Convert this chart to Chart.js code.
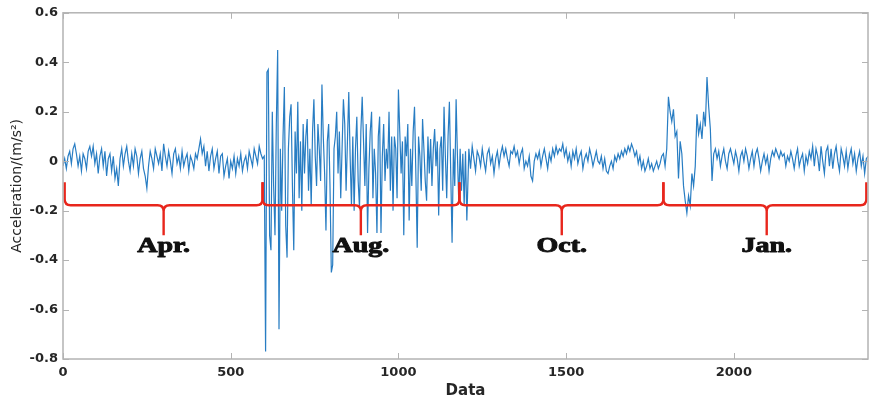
<!DOCTYPE html>
<html><head><meta charset="utf-8">
<script src="https://cdn.jsdelivr.net/npm/chart.js@4.4.0/dist/chart.umd.min.js"></script>
<style>html,body{margin:0;padding:0;background:#fff}#wrap{width:869px;height:404px}</style>
</head><body><div id="wrap"><canvas id="c" width="869" height="404"></canvas></div>
<script>
// ---- tick labels ----
const xTicks = [0, 500, 1000, 1500, 2000];
const xTickLabels = ['0', '500', '1000', '1500', '2000'];
const yTicks = [-0.8, -0.6, -0.4, -0.2, 0, 0.2, 0.4, 0.6];
const yTickLabels = ['-0.8', '-0.6', '-0.4', '-0.2', '0', '0.2', '0.4', '0.6'];

// ---- series, per period: start sample, sample step, values ----
const aprStart = 0, aprStep = 5;
const aprValues = [
 -0.02, 0.01, -0.03, 0.02, 0.04, -0.01, 0.05, 0.07, 0.03, -0.02,
 0.02, -0.04, 0.03, 0.01, -0.03, 0.04, 0.06, 0.02, 0.06, -0.01,
 0.03, -0.05, 0.02, 0.05, -0.02, 0.04, -0.06, 0.01, 0.03, -0.04,
 0.02, -0.07, -0.03, -0.10, 0.01, 0.05, -0.02, 0.03, 0.06, 0.00,
 -0.04, 0.03, -0.02, 0.05, 0.02, -0.05, 0.01, 0.04, -0.03, -0.06,
 -0.11, -0.02, 0.04, 0.01, -0.03, 0.05, 0.02, -0.01, 0.03, -0.04,
 0.07, 0.02, -0.02, 0.04, 0.00, -0.05, 0.03, 0.05, -0.01, 0.02,
 -0.03, 0.04, -0.02, 0.01, 0.03, -0.04, 0.02, 0.00, -0.03, 0.03,
 0.01, 0.05, 0.09, 0.03, 0.06, -0.02, 0.04, -0.04, 0.02, 0.05,
 -0.03, 0.01, 0.04, -0.05, 0.02, 0.03, -0.06, -0.02, 0.01, -0.07,
 0.00, -0.03, 0.02, -0.05, 0.01, -0.02, 0.03, -0.04, 0.00, 0.02,
 -0.03, 0.04, 0.01, -0.02, 0.05, 0.02, -0.01, 0.06, 0.03, 0.01
];
const augStart = 600, augStep = 4;
const augValues = [
 0.02, -0.77, 0.36, 0.37, -0.30, -0.36, 0.20, -0.10, -0.30, 0.15,
 0.45, -0.68, 0.05, -0.20, 0.10, 0.30, -0.26, -0.39, 0.05, 0.18,
 0.23, -0.10, -0.36, 0.12, -0.05, 0.24, -0.15, 0.08, -0.20, 0.15,
 -0.05, 0.10, 0.17, -0.12, 0.05, -0.18, 0.12, 0.25, 0.02, -0.10,
 0.15, 0.05, -0.08, 0.31, 0.10, -0.05, -0.28, 0.08, 0.15, -0.10,
 -0.45, -0.42, 0.05, 0.10, 0.20, -0.05, 0.12, -0.15, 0.05, 0.25,
 0.15, -0.12, 0.08, 0.28, 0.02, -0.18, 0.10, -0.20, 0.05, 0.18,
 -0.08, -0.19, 0.12, 0.26, 0.08, -0.10, 0.15, -0.29, -0.03, 0.12,
 0.20, -0.15, 0.05, -0.05, -0.29, 0.10, 0.18, -0.29, 0.02, 0.15,
 -0.08, 0.05, -0.03, 0.20, -0.12, 0.10, -0.20, 0.10, 0.05, -0.15,
 0.29, 0.12, -0.05, 0.08, -0.30, 0.10, 0.02, 0.15, -0.24, 0.05,
 -0.10, 0.12, 0.22, -0.05, -0.35, 0.10, 0.02, -0.12, 0.17, 0.05,
 -0.08, -0.16, 0.10, -0.05, 0.09, -0.10, 0.05, 0.13, -0.02, 0.08,
 -0.22, 0.05, 0.10, -0.12, 0.22, 0.02, -0.15, 0.10, 0.24, -0.05,
 -0.33, 0.05, -0.10, 0.25, 0.02, -0.17, 0.05, -0.12, 0.03, -0.18,
 0.04, -0.24
];
const octStart = 1210, octStep = 5;
const octValues = [
 0.05, -0.03, 0.06, 0.01, -0.04, 0.04, 0.02, -0.02, 0.05, 0.00,
 -0.04, 0.03, 0.05, -0.01, 0.02, -0.05, 0.01, 0.04, -0.02, 0.03,
 0.06, 0.02, 0.05, 0.01, -0.02, 0.04, 0.03, 0.06, 0.02, 0.04,
 -0.01, 0.03, 0.05, -0.03, 0.00, -0.02, 0.02, -0.06, -0.08, 0.00,
 0.03, 0.01, 0.04, -0.02, 0.02, 0.05, 0.01, -0.03, 0.03, 0.00,
 0.05, 0.02, 0.06, 0.03, 0.05, 0.04, 0.07, 0.02, 0.05, 0.00,
 0.03, -0.02, 0.04, 0.01, 0.05, -0.01, 0.02, 0.04, -0.03, 0.01,
 0.03, 0.00, 0.05, 0.02, -0.02, 0.01, 0.04, 0.00, -0.01, 0.02,
 -0.03, 0.01, -0.04, -0.05, -0.02, 0.00, -0.03, 0.02, 0.00, 0.03,
 0.01, 0.04, 0.02, 0.05, 0.03, 0.06, 0.04, 0.07, 0.05, 0.02,
 0.04, -0.01, 0.02, -0.03, 0.00, -0.04, -0.02, 0.01, -0.03, -0.01,
 -0.04, -0.02, 0.00, -0.03, -0.01, 0.02
];
const janStart = 1790, janStep = 5;
const janValues = [
 0.03, -0.02, 0.05, 0.26, 0.20, 0.16, 0.21, 0.10, 0.12, -0.07,
 0.08, 0.03, -0.10, -0.16, -0.21, -0.14, -0.18, -0.05, -0.10, -0.02,
 0.19, 0.11, 0.15, 0.09, 0.20, 0.14, 0.34, 0.22, 0.13, -0.08,
 0.03, 0.05, 0.01, 0.04, -0.02, 0.02, 0.05, 0.00, -0.03, 0.03,
 0.05, 0.02, -0.01, 0.04, 0.01, -0.04, 0.02, 0.04, 0.00, 0.05,
 0.02, -0.03, 0.01, 0.04, -0.02, 0.03, 0.05, 0.01, -0.04, 0.00,
 0.03, -0.01, 0.02, -0.04, 0.01, 0.04, 0.02, 0.05, 0.03, 0.01,
 0.04, 0.02, 0.03, -0.02, 0.02, 0.00, 0.04, 0.01, -0.03, 0.02,
 0.05, -0.02, 0.01, 0.03, -0.04, 0.02, -0.01, 0.04, 0.01, 0.06,
 -0.02, 0.05, 0.02, -0.04, 0.06, 0.00, -0.05, 0.04, 0.06, -0.02,
 0.05, -0.03, 0.03, 0.06, 0.00, -0.04, 0.05, 0.02, -0.02, 0.04,
 -0.03, 0.02, 0.05, -0.01, 0.03, -0.04, 0.01, 0.04, -0.02, 0.02,
 -0.05, 0.01, 0.02
];

// ---- period braces (data units) ----
const braceLabels = ['Apr.', 'Aug.', 'Oct.', 'Jan.'];
const braceStart = [5, 595, 1182, 1790];
const braceEnd = [595, 1182, 1790, 2395];
const braceMid = [300, 888, 1487, 2098];
const braceLevel = -0.178, braceTop = -0.085, braceTip = -0.30, braceLabelY = -0.367;

const points = [];
function addSeg(start, step, vals) { vals.forEach((v, i) => points.push({x: start + i * step, y: v})); }
addSeg(aprStart, aprStep, aprValues);
addSeg(augStart, augStep, augValues);
addSeg(octStart, octStep, octValues);
addSeg(janStart, janStep, janValues);

const AXIS_COL = '#b3b3b3';
const decor = {
  id: 'decor',
  afterDatasetsDraw(chart) {
    const ctx = chart.ctx, xs = chart.scales.x, ys = chart.scales.y;
    ctx.save();
    ctx.strokeStyle = '#e8261c';
    ctx.lineWidth = 2.4;
    ctx.lineJoin = 'round';
    const yl = ys.getPixelForValue(braceLevel), yt = ys.getPixelForValue(braceTop), ytip = ys.getPixelForValue(braceTip);
    const r = 6;
    for (let i = 0; i < braceLabels.length; i++) {
      const x0 = xs.getPixelForValue(braceStart[i]), x1 = xs.getPixelForValue(braceEnd[i]), xm = xs.getPixelForValue(braceMid[i]);
      ctx.beginPath();
      ctx.moveTo(x0, yt);
      ctx.lineTo(x0, yl - r);
      ctx.quadraticCurveTo(x0, yl, x0 + r, yl);
      ctx.lineTo(xm - r, yl);
      ctx.quadraticCurveTo(xm, yl, xm, yl + r);
      ctx.lineTo(xm, ytip);
      ctx.moveTo(xm, yl + r);
      ctx.quadraticCurveTo(xm, yl, xm + r, yl);
      ctx.lineTo(x1 - r, yl);
      ctx.quadraticCurveTo(x1, yl, x1, yl - r);
      ctx.lineTo(x1, yt);
      ctx.stroke();
    }
    ctx.fillStyle = '#111';
    ctx.strokeStyle = '#111';
    ctx.lineWidth = 0.9;
    ctx.font = 'bold 20px "Liberation Serif"';
    ctx.textAlign = 'center';
    ctx.textBaseline = 'alphabetic';
    const yb = ys.getPixelForValue(braceLabelY);
    for (let i = 0; i < braceLabels.length; i++) {
      const xm = xs.getPixelForValue(braceMid[i]);
      ctx.save();
      ctx.translate(xm, yb);
      ctx.scale(1.4, 1);
      ctx.fillText(braceLabels[i], 0, 0);
      ctx.strokeText(braceLabels[i], 0, 0);
      ctx.restore();
    }
    ctx.restore();
  },
  afterDraw(chart) {
    const ctx = chart.ctx, a = chart.chartArea, xs = chart.scales.x, ys = chart.scales.y;
    ctx.save();
    ctx.strokeStyle = AXIS_COL;
    ctx.lineWidth = 1.5;
    ctx.strokeRect(a.left, a.top, a.right - a.left, a.bottom - a.top);
    ctx.lineWidth = 1;
    const tl = 6;
    ctx.beginPath();
    xTicks.forEach(v => {
      const px = Math.round(xs.getPixelForValue(v)) + 0.5;
      ctx.moveTo(px, a.bottom); ctx.lineTo(px, a.bottom - tl);
      ctx.moveTo(px, a.top); ctx.lineTo(px, a.top + tl);
    });
    yTicks.forEach(v => {
      const py = Math.round(ys.getPixelForValue(v)) + 0.5;
      ctx.moveTo(a.left, py); ctx.lineTo(a.left + tl, py);
      ctx.moveTo(a.right, py); ctx.lineTo(a.right - tl, py);
    });
    ctx.stroke();
    ctx.restore();
  }
};

new Chart(document.getElementById('c').getContext('2d'), {
  type: 'line',
  data: {datasets: [{data: points, borderColor: 'rgb(40,125,195)', borderWidth: 1.2, pointRadius: 0, tension: 0, fill: false}]},
  options: {
    responsive: false, animation: false, devicePixelRatio: 1, normalized: true,
    layout: {padding: {top: 10, right: 1, left: 0, bottom: 0}},
    plugins: {legend: {display: false}, tooltip: {enabled: false}},
    scales: {
      x: {
        type: 'linear', min: 0, max: 2400,
        afterBuildTicks: s => { s.ticks = xTicks.map(v => ({value: v})); },
        afterFit: s => { s.height = 45; },
        grid: {display: false, drawTicks: false}, border: {display: false},
        ticks: {padding: 6, color: '#262626', autoSkip: false, maxRotation: 0,
          font: {family: 'DejaVu Sans', weight: 'bold', size: 13},
          callback: (v, i) => xTickLabels[i]},
        title: {display: true, text: 'Data', color: '#262626',
          font: {family: 'DejaVu Sans', weight: 'bold', size: 15}, padding: {top: 0, bottom: 4}}
      },
      y: {
        type: 'linear', min: -0.8, max: 0.6,
        afterBuildTicks: s => { s.ticks = yTicks.map(v => ({value: v})); },
        afterFit: s => { s.width = 63; },
        grid: {display: false, drawTicks: false}, border: {display: false},
        ticks: {padding: 5, color: '#262626', autoSkip: false,
          font: {family: 'DejaVu Sans', weight: 'bold', size: 13},
          callback: (v, i) => yTickLabels[i]},
        title: {display: true, text: 'Acceleration/(m/s²)', color: '#262626',
          font: {family: 'DejaVu Sans', weight: 'normal', size: 14}, padding: {top: 9, bottom: 0}}
      }
    }
  },
  plugins: [decor]
});
</script>
</body></html>
